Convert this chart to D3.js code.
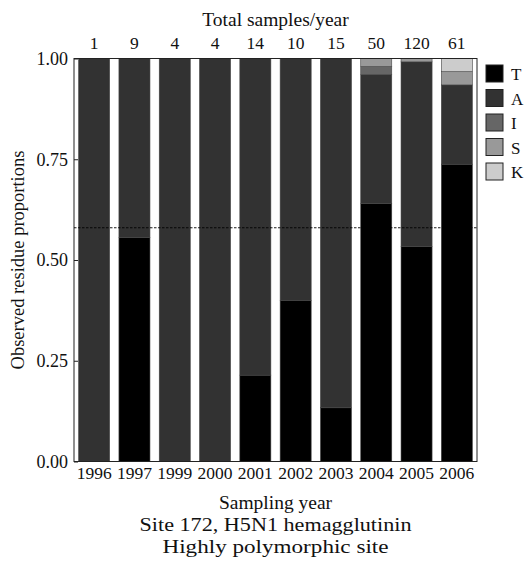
<!DOCTYPE html>
<html><head><meta charset="utf-8">
<script src="https://cdn.jsdelivr.net/npm/d3@7"></script>
<style>body{margin:0;background:#fff}svg{display:block}text{font-family:"Liberation Serif","Times New Roman",serif;fill:#111}</style>
</head><body><svg id="c" width="525" height="563"></svg>
<script>
const years = ["1996","1997","1999","2000","2001","2002","2003","2004","2005","2006"];
const totals = [1,9,4,4,14,10,15,50,120,61];
const residues = ["T","A","I","S","K"];
const countT = [0,5,0,0,3,4,2,32,64,45];
const countA = [1,4,4,4,11,6,13,16,55,12];
const countI = [0,0,0,0,0,0,0,1,0,0];
const countS = [0,0,0,0,0,0,0,1,1,2];
const countK = [0,0,0,0,0,0,0,0,0,2];
const colors = ["#000000","#323232","#666666","#999999","#cccccc"];
const refLine = 0.58;
const yTicks = [0,0.25,0.5,0.75,1];

const counts = {T:countT,A:countA,I:countI,S:countS,K:countK};
const rows = years.map((y,i)=>{const r={year:y};residues.forEach(k=>r[k]=counts[k][i]/totals[i]);return r;});

const svg = d3.select("#c");
const L=74,R=477,T=58.5,B=461.5;
const x = d3.scaleBand().domain(years).range([L,R]).paddingInner(0.23).paddingOuter(0.115);
const y = d3.scaleLinear().domain([0,1]).range([B,T]);
const color = d3.scaleOrdinal().domain(residues).range(colors);

const stack = d3.stack().keys(residues)(rows);
svg.append("g").selectAll("g").data(stack).join("g").attr("fill",d=>color(d.key))
 .selectAll("rect").data(d=>d.filter(s=>s[1]-s[0]>0)).join("rect")
 .attr("x",d=>x(d.data.year)).attr("width",x.bandwidth())
 .attr("y",d=>y(d[1])).attr("height",d=>y(d[0])-y(d[1]))
 .attr("stroke","#444").attr("stroke-width",0.6);

// frame
svg.append("rect").attr("x",L).attr("y",T).attr("width",R-L).attr("height",B-T).attr("fill","none").attr("stroke","#222").attr("stroke-width",1);

const tf = "17.5px";
// y axis
const ya = svg.append("g").attr("transform",`translate(${L},0)`).call(d3.axisLeft(y).tickValues(yTicks).tickFormat(d3.format(".2f")).tickSizeInner(-4).tickSizeOuter(0).tickPadding(6));
ya.select(".domain").remove();
ya.selectAll("text").style("font-size","18px").style("font-family","Liberation Serif");
ya.selectAll("line").attr("stroke","#222");

// x axis
const xa = svg.append("g").attr("transform",`translate(0,${B})`).call(d3.axisBottom(x).tickSize(0).tickPadding(5));
xa.select(".domain").remove();
xa.selectAll("text").style("font-size",tf).style("font-family","Liberation Serif");

// top counts
const ta = svg.append("g").attr("transform",`translate(0,${T})`).call(d3.axisTop(x).tickSize(0).tickPadding(10).tickFormat((d,i)=>totals[i]));
ta.select(".domain").remove();
ta.selectAll("text").style("font-size",tf).style("font-family","Liberation Serif");

// dashed reference line
svg.append("line").attr("x1",L).attr("x2",R).attr("y1",y(refLine)).attr("y2",y(refLine))
 .attr("stroke","#000").attr("stroke-width",0.9).attr("stroke-dasharray","2.5,1.5");

// titles
svg.append("text").attr("x",(L+R)/2).attr("y",26).attr("text-anchor","middle").style("font-size","19.5px").text("Total samples/year");
svg.append("text").attr("x",(L+R)/2).attr("y",509).attr("text-anchor","middle").style("font-size","19.5px").text("Sampling year");
svg.append("text").attr("transform",`translate(24,${(T+B)/2}) rotate(-90)`).attr("text-anchor","middle").style("font-size","18.5px").text("Observed residue proportions");
svg.append("text").attr("x",(L+R)/2).attr("y",531).attr("text-anchor","middle").style("font-size","19px").attr("textLength",272).attr("lengthAdjust","spacingAndGlyphs").text("Site 172, H5N1 hemagglutinin");
svg.append("text").attr("x",(L+R)/2).attr("y",553).attr("text-anchor","middle").style("font-size","19px").attr("textLength",226).attr("lengthAdjust","spacingAndGlyphs").text("Highly polymorphic site");

// legend
const lg = svg.append("g").selectAll("g").data(residues).join("g").attr("transform",(d,i)=>`translate(486,${65+i*24.5})`);
lg.append("rect").attr("width",17).attr("height",17).attr("fill",d=>color(d)).attr("stroke","#222").attr("stroke-width",1);
lg.append("text").attr("x",25).attr("y",15).style("font-size","17px").text(d=>d);
</script></body></html>
